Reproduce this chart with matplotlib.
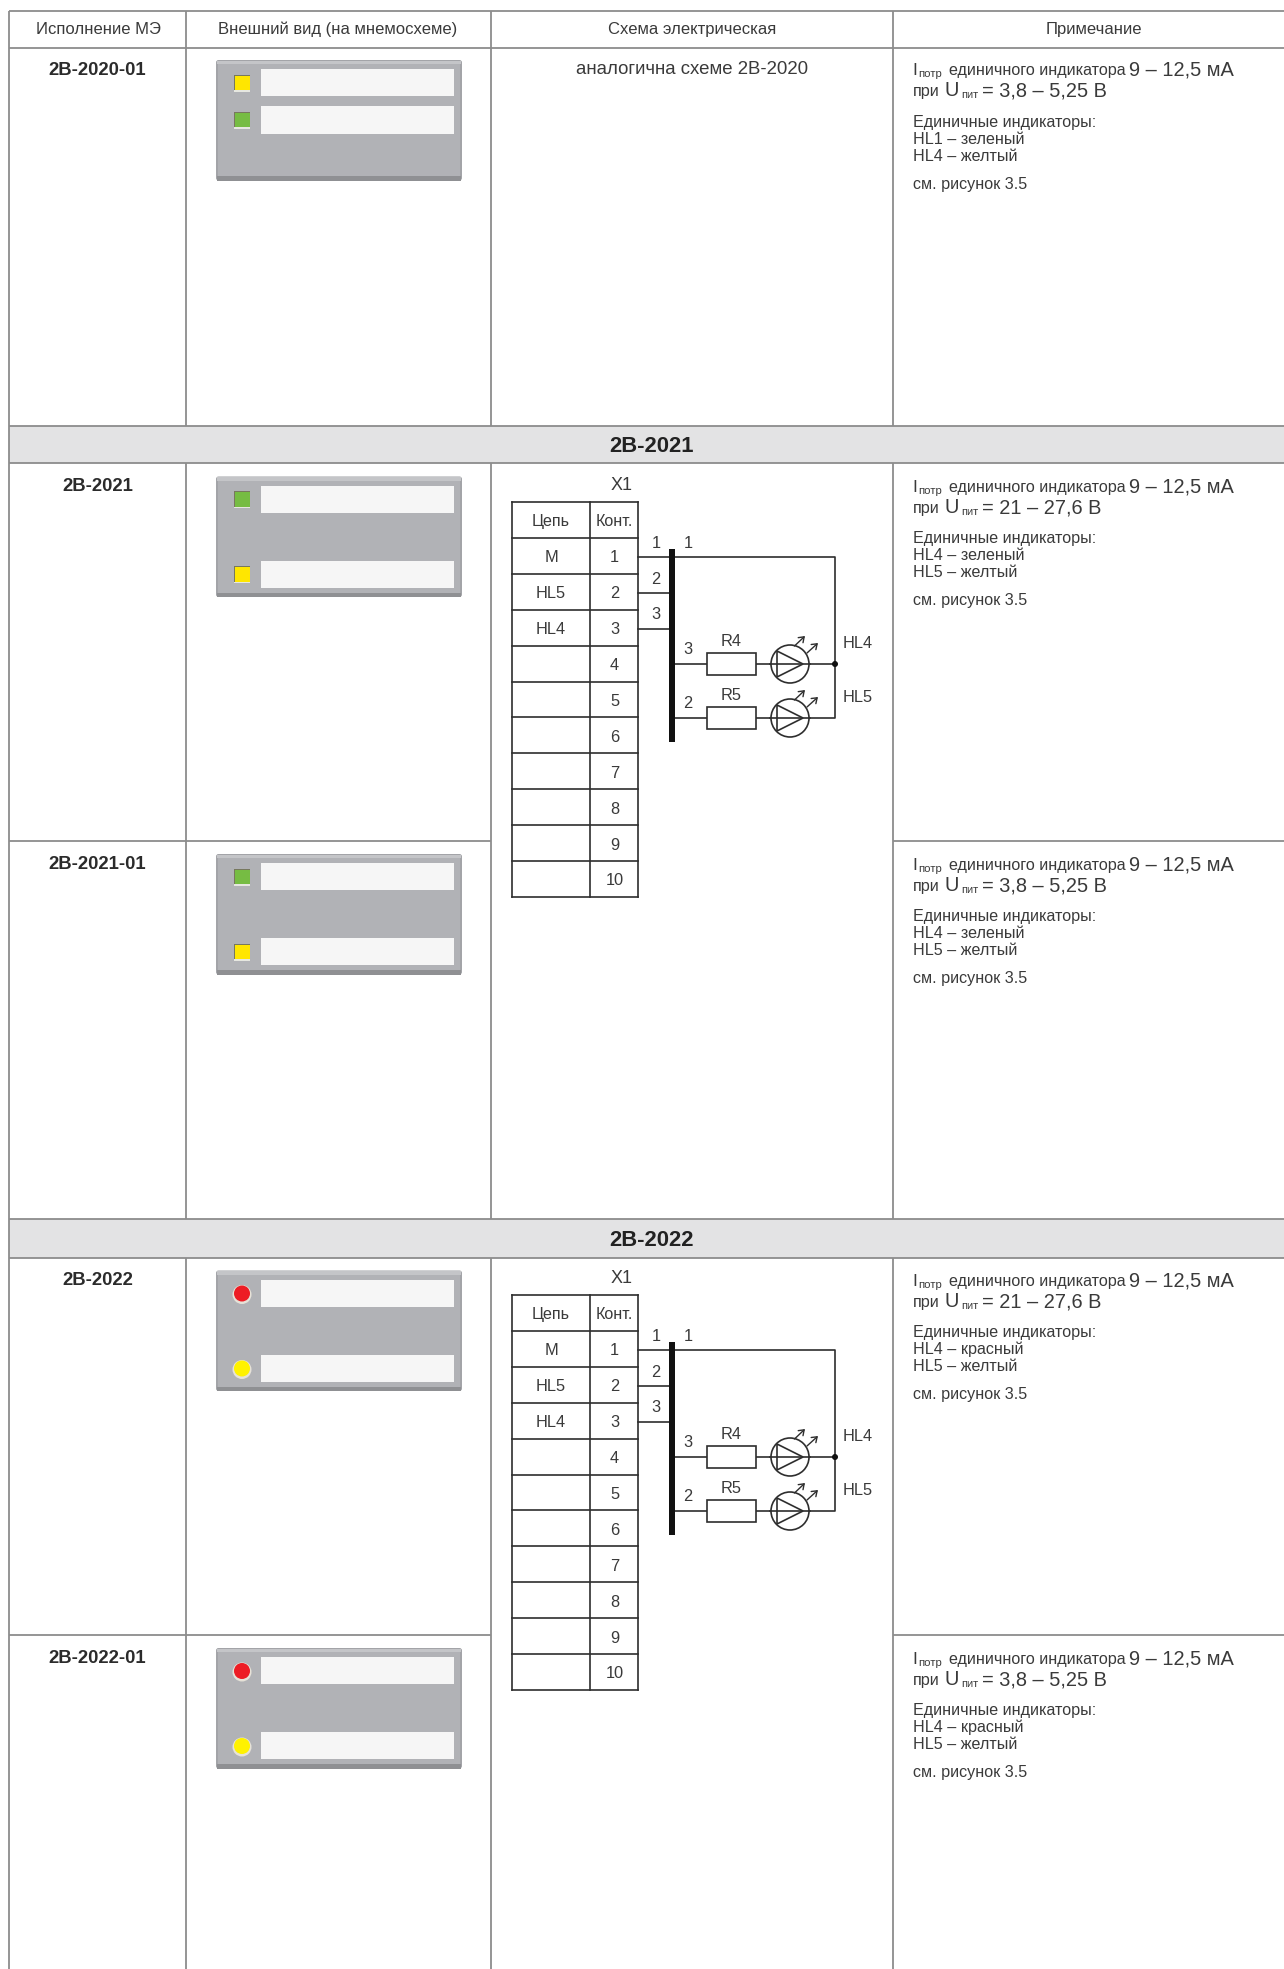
import matplotlib
matplotlib.use("Agg")
import matplotlib.pyplot as plt
from matplotlib.patches import Rectangle, Circle, Polygon, FancyBboxPatch

plt.rcParams['font.family'] = ['Liberation Sans', 'DejaVu Sans']

W, H = 1284, 1969
TXT = '#3a3a3a'
LINE = '#8c8c8c'
WIRE = '#2e2e2e'

headers = ['Исполнение МЭ', 'Внешний вид (на мнемосхеме)', 'Схема электрическая', 'Примечание']
col_x = [9, 186, 491, 893, 1284]
header_y = [11, 48]
sections = ['2В-2021', '2В-2022']
section_y = [(425.5, 463), (1219, 1257.5)]
row_names = ['2В-2020-01', '2В-2021', '2В-2021-01', '2В-2022', '2В-2022-01']
row_top = [48, 464, 842, 1258, 1636]
note_top = [47, 464, 842, 1258, 1636]
panel_top = [60, 476.5, 854, 1270.5, 1648]
led_shape = ['square', 'square', 'square', 'round', 'round']
led_colors = [['#ffe600', '#76bc43'], ['#76bc43', '#ffe600'], ['#76bc43', '#ffe600'],
              ['#ed1c24', '#fff200'], ['#ed1c24', '#fff200']]
led_rel_y = [[23, 60], [23, 98], [23, 98], [23, 98], [23, 98]]
bar_rel_y = [[(9, 36), (46, 74)], [(9, 36), (84, 111)], [(9, 36), (84, 111)],
             [(9, 36), (84, 111)], [(9, 36), (84, 111)]]
voltage = ['3,8 – 5,25 В', '21 – 27,6 В', '3,8 – 5,25 В', '21 – 27,6 В', '3,8 – 5,25 В']
current = '9 – 12,5 мА'
note_lines = [['HL1 – зеленый', 'HL4 – желтый'],
              ['HL4 – зеленый', 'HL5 – желтый'],
              ['HL4 – зеленый', 'HL5 – желтый'],
              ['HL4 – красный', 'HL5 – желтый'],
              ['HL4 – красный', 'HL5 – желтый']]
same_as = 'аналогична схеме 2В-2020'
circuit = ['M', 'HL5', 'HL4', '', '', '', '', '', '', '']
contacts = ['1', '2', '3', '4', '5', '6', '7', '8', '9', '10']
schema_offset = [0, 793]

fig = plt.figure(figsize=(W / 100, H / 100), dpi=100, facecolor='white')
ax = fig.add_axes([0, 0, 1, 1])
ax.set_xlim(0, W)
ax.set_ylim(H, 0)
ax.axis('off')


def hl(y, x0=col_x[0], x1=W, c=LINE, lw=1.3):
    ax.plot([x0, x1], [y, y], color=c, lw=lw, solid_capstyle='butt', zorder=3)


def vl(x, y0, y1, c=LINE, lw=1.3):
    ax.plot([x, x], [y0, y1], color=c, lw=lw, solid_capstyle='butt', zorder=3)


def label(x, y, s, size, ha='center', weight='normal', color=TXT):
    return ax.text(x, y, s, fontsize=size, ha=ha, va='center', fontweight=weight, color=color)


def base(x, y, s, size):
    return ax.text(x, y, s, fontsize=size, ha='left', va='baseline', color=TXT)


# --- grid ---
for i, (y0, y1) in enumerate(section_y):
    ax.add_patch(Rectangle((col_x[0], y0), W - col_x[0], y1 - y0, fc='#e3e3e4', ec='none', zorder=1))
    label(651.5, (y0 + y1) / 2 + 2, sections[i], 15.8, weight='bold', color='#222222')

hl(header_y[0]); hl(header_y[1])
for y0, y1 in section_y:
    hl(y0); hl(y1)
for y in (841, 1635):
    hl(y, col_x[0], col_x[2]); hl(y, col_x[3], W)
for x in col_x[:4]:
    vl(x, header_y[0], section_y[0][0])
    vl(x, section_y[0][1], section_y[1][0])
    vl(x, section_y[1][1], H)
vl(col_x[0], section_y[0][0], section_y[0][1])
vl(col_x[0], section_y[1][0], section_y[1][1])

header_cx = [98, 338, 692, 1094]
for cx, h in zip(header_cx, headers):
    label(cx, 29, h, 12.0)

label(692, 69, same_as, 13.4)

# --- panels and notes ---
for i, name in enumerate(row_names):
    label(97.5, panel_top[i] + 10, name, 13.3, weight='bold', color='#2b2b2b')
    pt = panel_top[i]
    ax.add_patch(FancyBboxPatch((216, pt), 246, 120.5, boxstyle='round,pad=0,rounding_size=2.5',
                                fc='#a3a4a8', ec='none', zorder=2))
    ax.add_patch(Rectangle((217, pt + 116), 244, 4.5, fc='#8f9093', ec='none', zorder=2))
    ax.add_patch(Rectangle((217, pt + 0.5), 244, 3.5, fc='#c4c5c8', ec='none', zorder=2))
    ax.add_patch(Rectangle((218, pt + 4), 242, 112, fc='#b1b2b6', ec='none', zorder=2))
    for (b0, b1), ly, c in zip(bar_rel_y[i], led_rel_y[i], led_colors[i]):
        ax.add_patch(Rectangle((261, pt + b0), 193, b1 - b0, fc='#f6f6f6', ec='none', zorder=3))
        if led_shape[i] == 'square':
            ax.add_patch(Rectangle((234, pt + ly - 8.5), 16, 17, fc='#e6e7e0', ec='none', zorder=3))
            ax.add_patch(Rectangle((234, pt + ly - 8.5), 16, 15.5, fc='#77785e', ec='none', zorder=3))
            ax.add_patch(Rectangle((235, pt + ly - 7.5), 15, 14.5, fc=c, ec='none', zorder=4))
        else:
            ax.add_patch(Circle((242, pt + ly + 1), 9.5, fc='#e6e2d8', ec='none', zorder=3))
            ax.add_patch(Circle((242, pt + ly), 8, fc=c, ec='none', zorder=4))

    t = note_top[i]
    y1 = t + 28
    y2 = t + 49
    base(912.5, y1, 'I', 12.4)
    base(918, y1 + 2, 'потр', 8.2)
    base(949, y1, 'единичного индикатора', 11.6)
    base(1129, y1, current, 14.4)
    base(913, y2, 'при', 11.6)
    base(945, y2, 'U', 14.4)
    base(961, y2 + 2, 'пит', 8.0)
    base(982, y2, '= ' + voltage[i], 14.4)
    top = row_top[i]
    label(913, top + 74, 'Единичные индикаторы:', 11.6, ha='left')
    label(913, top + 91.5, note_lines[i][0], 11.6, ha='left')
    label(913, top + 108.5, note_lines[i][1], 11.6, ha='left')
    label(913, top + 136.5, 'см. рисунок 3.5', 11.6, ha='left')


# --- schematic ---
def led(cx, cy):
    ax.add_patch(Circle((cx, cy), 19, fc='white', ec=WIRE, lw=1.2, zorder=4))
    ax.add_patch(Polygon([(cx - 13, cy - 13), (cx - 13, cy + 13), (cx + 13, cy)],
                         fc='none', ec=WIRE, lw=1.2, zorder=5))
    ax.plot([cx - 20, cx + 20], [cy, cy], color=WIRE, lw=1.2, zorder=5)
    for (x0, y0, x1, y1) in [(cx + 4.5, cy - 18, cx + 15, cy - 28), (cx + 17, cy - 11, cx + 28, cy - 21)]:
        ax.annotate('', xy=(x1, y1), xytext=(x0, y0), zorder=6,
                    arrowprops=dict(arrowstyle='->,head_length=0.35,head_width=0.25', color=WIRE, lw=1.0,
                                    shrinkA=0, shrinkB=0))


for dy in schema_offset:
    tx = [512, 590, 638]
    ty0 = 502 + dy
    rh = 35.9
    for j in range(12):
        ax.plot([tx[0], tx[2]], [ty0 + j * rh] * 2, color=WIRE, lw=1.2, zorder=4)
    for x in tx:
        ax.plot([x, x], [ty0, ty0 + 11 * rh], color=WIRE, lw=1.2, zorder=4)
    label(622, 485 + dy, 'X1', 13.0)
    label(551, ty0 + rh / 2 + 2, 'Цепь', 11.6)
    label(614.5, ty0 + rh / 2 + 2, 'Конт.', 11.6)
    for j in range(10):
        cy = ty0 + (j + 1.5) * rh + 2
        if circuit[j]:
            label(551, cy, circuit[j], 11.8)
        label(614.5, cy, contacts[j], 11.8)
    ax.add_patch(Rectangle((669, 549 + dy), 6, 193, fc='#111111', ec='none', zorder=5))
    y1, y2, y3 = 557 + dy, 593 + dy, 629 + dy
    ya, yb = 664 + dy, 718 + dy
    ax.plot([638, 835, 835, 752], [y1, y1, yb, yb], color=WIRE, lw=1.2, zorder=4)
    ax.plot([638, 672], [y2, y2], color=WIRE, lw=1.2, zorder=4)
    ax.plot([638, 672], [y3, y3], color=WIRE, lw=1.2, zorder=4)
    ax.plot([672, 835], [ya, ya], color=WIRE, lw=1.2, zorder=3.5)
    ax.plot([672, 752], [yb, yb], color=WIRE, lw=1.2, zorder=3.5)
    for yy in (ya, yb):
        ax.add_patch(Rectangle((707, yy - 11), 49, 22, fc='white', ec=WIRE, lw=1.2, zorder=4))
        led(790, yy)
    ax.add_patch(Circle((835, ya), 3.0, fc='#111111', ec='none', zorder=6))
    for (x, y, s) in [(656, 543, '1'), (688, 543, '1'), (656, 579, '2'), (656, 614, '3'),
                      (688, 649, '3'), (688, 703, '2'), (731, 641, 'R4'), (731, 695, 'R5'),
                      (858, 643, 'HL4'), (858, 697, 'HL5')]:
        label(x, y + dy, s, 11.8)

fig.savefig('out.png', dpi=100, facecolor='white')
